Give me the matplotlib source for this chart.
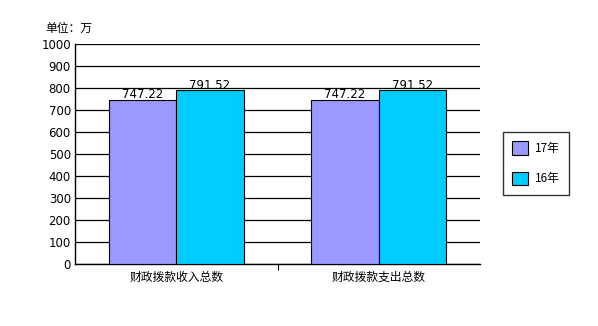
import numpy as np
import matplotlib
matplotlib.use('Agg')
import matplotlib.pyplot as plt

plt.rcParams['font.family'] = ['Noto Sans CJK SC', 'DejaVu Sans']

categories = ['财政拨款收入总数', '财政拨款支出总数']
series_names = ['17年', '16年']
values_17 = [747.22, 747.22]
values_16 = [791.52, 791.52]
colors = ['#9999FF', '#00CCFF']

fig = plt.figure(figsize=(5.98, 3.26), dpi=100)
ax = fig.add_axes([75 / 598, 62 / 326, 405 / 598, 220 / 326])

x = np.arange(len(categories))
w = 1 / 3
b1 = ax.bar(x - w / 2, values_17, w, color=colors[0], edgecolor='black', linewidth=0.8,
            label=series_names[0], zorder=3)
b2 = ax.bar(x + w / 2, values_16, w, color=colors[1], edgecolor='black', linewidth=0.8,
            label=series_names[1], zorder=3)

for bars, vals in [(b1, values_17), (b2, values_16)]:
    for rect, v in zip(bars, vals):
        ax.text(rect.get_x() + rect.get_width() / 2, v - 8, f'{v:.2f}',
                ha='center', va='bottom', fontsize=8.5, family='DejaVu Sans', zorder=4)

ax.set_xlim(-0.5, 1.5)
ax.set_ylim(0, 1000)
ax.set_yticks(np.arange(0, 1001, 100))
ax.yaxis.grid(True, color='black', linewidth=0.9, zorder=0)
ax.tick_params(axis='y', length=0, labelsize=8.5, pad=3)
for lbl in ax.get_yticklabels():
    lbl.set_family('DejaVu Sans')

ax.set_xticks(x)
ax.set_xticklabels(categories, fontsize=8.5)
ax.tick_params(axis='x', length=0, pad=5)
ax.set_xticks([0.5], minor=True)
ax.tick_params(axis='x', which='minor', length=4, width=0.8, direction='out')

for s in ['top', 'right']:
    ax.spines[s].set_visible(False)
for s in ['left', 'bottom']:
    ax.spines[s].set_linewidth(1.0)
    ax.spines[s].set_color('black')

fig.text(45 / 598, 1 - 28 / 326, '单位：万', fontsize=8.5, va='center', ha='left')

leg = ax.legend(loc='upper left', bbox_to_anchor=(503 / 598, 1 - 132 / 326),
                bbox_transform=fig.transFigure,
                frameon=True, fancybox=False, edgecolor='black', fontsize=8.5,
                handlelength=1.3, handleheight=1.4, labelspacing=1.4, borderpad=0.8,
                handletextpad=0.6, borderaxespad=0)
leg.get_frame().set_linewidth(1.0)

fig.savefig('out.png', dpi=100)
